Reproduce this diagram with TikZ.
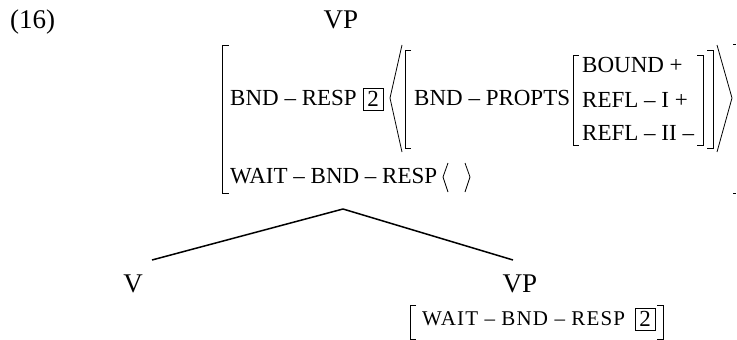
\documentclass[tikz,border=0pt]{standalone}
\usepackage{fontspec}
\setmainfont{Liberation Serif}
\usetikzlibrary{calc}

\begin{document}
\begin{tikzpicture}[x=1pt, y=-1pt,
    lbl/.style={inner sep=0pt, font=\fontsize{27}{27}\selectfont},
    feat/.style={inner sep=0pt, anchor=west, font=\fontsize{23}{23}\selectfont},
    tagbox/.style={draw, line width=0.8pt, inner sep=0pt, minimum width=20pt, minimum height=22pt, font=\fontsize{23}{23}\selectfont},
    brk/.style={line width=0.8pt},
    edge/.style={line width=1.5pt}]
      \useasboundingbox (0,0) rectangle (737,340);

      \node[lbl, anchor=west] (ex) at (10,22) {(16)};
      \node[lbl] (vp) at (341,20) {VP};

      % top AVM
      \node[feat] (bndresp) at (230,98) {BND -- RESP};
      \node[tagbox] (tag1) at (373,99) {2};
      \node[feat] (wait) at (230,176) {WAIT -- BND -- RESP};
      \node[feat] (bndprop) at (414,98) {BND -- PROPTS};
      \node[feat] (bound) at (582,65) {BOUND +};
      \node[feat] (refli) at (582,100) {REFL -- I +};
      \node[feat] (reflii) at (582,133) {REFL -- II --};

      \draw[brk] (229,45) -| (222,193) -- (229,193);
      \draw[brk] (733,44) -- (736,44);
      \draw[brk] (733,193) -- (736,193);
      \draw[brk] (402,45) -- (390,98) -- (402,152);
      \draw[brk] (717,45) -- (732,98) -- (717,152);
      \draw[brk] (411,50) -| (405,148) -- (411,148);
      \draw[brk] (707,50) -| (713,148) -- (707,148);
      \draw[brk] (579,55) -| (573,145) -- (579,145);
      \draw[brk] (697,55) -| (703,145) -- (697,145);
      \draw[brk] (448,163) -- (443,177) -- (448,192);
      \draw[brk] (465,163) -- (470,177) -- (465,192);

      % tree
      \coordinate (apex) at (343,209);
      \coordinate (vend) at (152,260);
      \coordinate (vpend) at (513,260);
      \node[lbl] (v) at (133,284) {V};
      \node[lbl] (vp2) at (520,284) {VP};
      \draw[edge] (apex) -- (vend);
      \draw[edge] (apex) -- (vpend);

      % bottom AVM
      \node[feat, font=\fontsize{21}{21}\selectfont\addfontfeatures{LetterSpace=5.5}] (wait2) at (422,319) {WAIT -- BND -- RESP};
      \node[tagbox] (tag2) at (645,319) {2};
      \draw[brk] (416,305) -| (410,339) -- (416,339);
      \draw[brk] (657,305) -| (663,339) -- (657,339);
\end{tikzpicture}
\end{document}
